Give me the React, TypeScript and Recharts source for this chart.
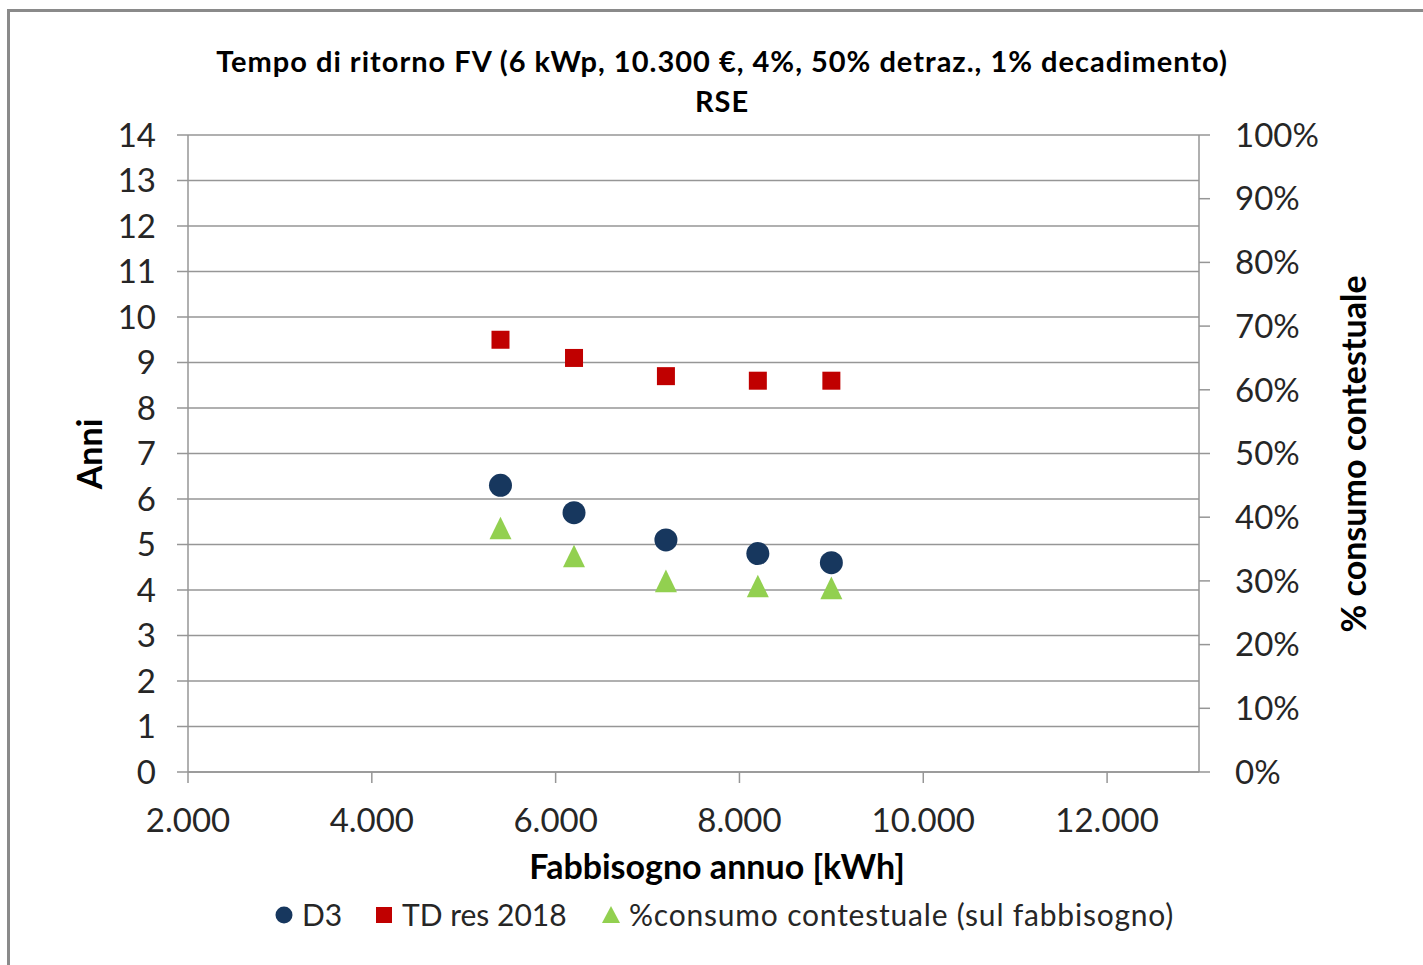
import { ScatterChart, Scatter, XAxis, YAxis, CartesianGrid } from 'recharts';

// fabbisogno annuo (kWh)
const fabbisogno = [5400, 6200, 7200, 8200, 9000];
// tempo di ritorno (anni)
const d3 = [6.3, 5.7, 5.1, 4.8, 4.6];
const tdRes2018 = [9.5, 9.1, 8.7, 8.6, 8.6];
// % consumo contestuale (sul fabbisogno)
const consumoContestuale = [0.383, 0.339, 0.3, 0.292, 0.289];

const xTicks = [2000, 4000, 6000, 8000, 10000, 12000];
const leftTicks = [0, 1, 2, 3, 4, 5, 6, 7, 8, 9, 10, 11, 12, 13, 14];
const rightTicks = [0, 0.1, 0.2, 0.3, 0.4, 0.5, 0.6, 0.7, 0.8, 0.9, 1];

const BLUE = '#17375e';
const RED = '#c00000';
const GREEN = '#92d050';
const AXIS = '#969696';
const FONT = 'Lato, "Open Sans", sans-serif';

const toPoints = (ys: number[]) => fabbisogno.map((x, i) => ({ x, y: ys[i] }));

const fmtThousands = (v: number) => v.toLocaleString('de-DE');
const fmtPct = (v: number) => `${Math.round(v * 100)}%`;

const Dot = (p: any) => <circle cx={p.cx} cy={p.cy} r={11.5} fill={BLUE} />;
const Sq = (p: any) => <rect x={p.cx - 9} y={p.cy - 9} width={18} height={18} fill={RED} />;
const Tri = (p: any) => (
  <polygon
    points={`${p.cx},${p.cy - 11.3} ${p.cx - 11},${p.cy + 11.3} ${p.cx + 11},${p.cy + 11.3}`}
    fill={GREEN}
  />
);

const tick = { fill: '#262626', fontSize: 33, fontFamily: FONT };

const axisTitle = { position: 'absolute' as const, fontWeight: 700, fontSize: 34, whiteSpace: 'nowrap' as const };
const legendText = { position: 'absolute' as const, top: 914, transform: 'translateY(-50%)', fontSize: 30, color: '#262626', whiteSpace: 'nowrap' as const };

export default function App() {
  return (
    <div style={{ position: 'fixed', left: 0, top: 0, width: 1423, height: 965, background: '#fff', fontFamily: FONT, color: '#000' }}>
      <div style={{ position: 'absolute', left: 7, top: 9, width: 1430, height: 970, borderLeft: '3px solid #8a8a8a', borderTop: '3px solid #8a8a8a' }} />
      <div style={{ position: 'absolute', left: 0, top: 41, width: 1444, textAlign: 'center', fontWeight: 700, fontSize: 29, letterSpacing: 1, lineHeight: '40px' }}>
        Tempo di ritorno FV (6 kWp, 10.300 €, 4%, 50% detraz., 1% decadimento)
        <br />
        RSE
      </div>
      <ScatterChart width={1423} height={965} margin={{ top: 135, right: 0, bottom: 0, left: 0 }} style={{ position: 'absolute', left: 0, top: 0 }}>
        <CartesianGrid yAxisId="left" vertical={false} stroke={AXIS} strokeWidth={1.5} />
        <XAxis
          type="number"
          dataKey="x"
          domain={[2000, 13000]}
          ticks={xTicks}
          tickFormatter={fmtThousands}
          tick={tick}
          tickSize={11}
          tickMargin={26}
          height={193}
          stroke={AXIS}
          strokeWidth={1.5}
          allowDataOverflow
        />
        <YAxis
          yAxisId="left"
          type="number"
          dataKey="y"
          domain={[0, 14]}
          ticks={leftTicks}
          interval={0}
          tick={tick}
          tickSize={11}
          tickMargin={21}
          width={188}
          stroke={AXIS}
          strokeWidth={1.5}
        />
        <YAxis
          yAxisId="right"
          orientation="right"
          type="number"
          dataKey="y"
          domain={[0, 1]}
          ticks={rightTicks}
          interval={0}
          tickFormatter={fmtPct}
          tick={tick}
          tickSize={11}
          tickMargin={25}
          width={224}
          stroke={AXIS}
          strokeWidth={1.5}
        />
        <Scatter name="D3" yAxisId="left" data={toPoints(d3)} shape={Dot} isAnimationActive={false} />
        <Scatter name="TD res 2018" yAxisId="left" data={toPoints(tdRes2018)} shape={Sq} isAnimationActive={false} />
        <Scatter name="%consumo contestuale (sul fabbisogno)" yAxisId="right" data={toPoints(consumoContestuale)} shape={Tri} isAnimationActive={false} />
      </ScatterChart>
      <div style={{ ...axisTitle, left: 88, top: 454, transform: 'translate(-50%, -50%) rotate(-90deg)' }}>Anni</div>
      <div style={{ ...axisTitle, left: 1352, top: 454, transform: 'translate(-50%, -50%) rotate(-90deg)' }}>% consumo contestuale</div>
      <div style={{ ...axisTitle, left: 717, top: 865, transform: 'translate(-50%, -50%)' }}>Fabbisogno annuo [kWh]</div>

      <svg width={1423} height={965} style={{ position: 'absolute', left: 0, top: 0, pointerEvents: 'none' }}>
        <circle cx={284} cy={915} r={8.5} fill={BLUE} />
        <rect x={376} y={907} width={16} height={16} fill={RED} />
        <polygon points="611,906 602,923 620,923" fill={GREEN} />
      </svg>
      <div style={{ ...legendText, left: 302 }}>D3</div>
      <div style={{ ...legendText, left: 402 }}>TD res 2018</div>
      <div style={{ ...legendText, left: 629, letterSpacing: 0.8 }}>%consumo contestuale (sul fabbisogno)</div>
    </div>
  );
}
